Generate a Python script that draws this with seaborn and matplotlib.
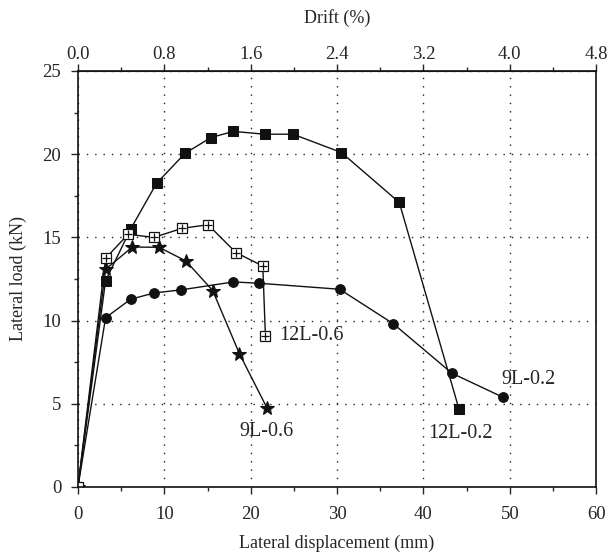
import matplotlib
matplotlib.use("Agg")
import matplotlib.pyplot as plt
from matplotlib.ticker import MultipleLocator, FixedLocator, FormatStrFormatter
import seaborn as sns

# displacement (mm) / lateral load (kN)
x_12l02 = [0.0, 3.2, 6.1, 9.1, 12.4, 15.4, 18.0, 21.6, 24.9, 30.5, 37.2, 44.1]
y_12l02 = [0.0, 12.4, 15.5, 18.25, 20.05, 21.0, 21.37, 21.2, 21.2, 20.1, 17.1, 4.7]

x_12l06 = [0.0, 3.2, 5.8, 8.8, 12.05, 15.06, 18.3, 21.4, 21.7]
y_12l06 = [0.0, 13.74, 15.18, 15.0, 15.54, 15.76, 14.08, 13.28, 9.1]

x_9l06 = [0.0, 3.2, 6.3, 9.4, 12.5, 15.6, 18.7, 21.9]
y_9l06 = [0.0, 13.08, 14.42, 14.4, 13.58, 11.8, 8.0, 4.73]

x_9l02 = [0.0, 3.2, 6.1, 8.85, 11.9, 18.0, 21.0, 30.3, 36.5, 43.3, 49.2]
y_9l02 = [0.0, 10.17, 11.28, 11.66, 11.84, 12.32, 12.24, 11.88, 9.81, 6.83, 5.39]

drift_ticks = [0.0, 0.8, 1.6, 2.4, 3.2, 4.0, 4.8]
drift_minor = [0.4, 1.2, 2.0, 2.8, 3.6, 4.4]
HEIGHT_MM = 1250.0  # drift = displacement / height

sns.set_style("ticks")
plt.rcParams["font.family"] = ["Liberation Serif", "DejaVu Serif"]
plt.rcParams["font.size"] = 13

fig = plt.figure(figsize=(6.09, 5.59), dpi=100)
ax = fig.add_axes([0.128, 0.129, 0.851, 0.744])

ink = "#111111"
sns.lineplot(x=x_12l02, y=y_12l02, sort=False, estimator=None, color=ink,
             lw=1, marker="s", markersize=7, markeredgecolor=ink, ax=ax)
sns.lineplot(x=x_9l02, y=y_9l02, sort=False, estimator=None, color=ink,
             lw=1, marker="o", markersize=7, markeredgecolor=ink, ax=ax)
sns.lineplot(x=x_9l06, y=y_9l06, sort=False, estimator=None, color=ink,
             lw=1, marker="*", markersize=10, markeredgecolor=ink, ax=ax)
sns.lineplot(x=x_12l06, y=y_12l06, sort=False, estimator=None, color=ink,
             lw=1, marker="s", markersize=7, markerfacecolor="white",
             markeredgecolor=ink, markeredgewidth=0.9, ax=ax)
sns.scatterplot(x=x_12l06[1:], y=y_12l06[1:], marker="+", s=40, color=ink,
                linewidth=0.9, ax=ax, zorder=5)

ax.text(23.3, 9.1, "12L-0.6", va="center", ha="left", fontsize=14.5)
ax.text(18.7, 3.35, "9L-0.6", va="center", ha="left", fontsize=14.5)
ax.text(49.0, 6.45, "9L-0.2", va="center", ha="left", fontsize=14.5)
ax.text(40.5, 3.2, "12L-0.2", va="center", ha="left", fontsize=14.5)

ax.set_xlim(0, 60)
ax.set_ylim(0, 25)
ax.xaxis.set_major_locator(MultipleLocator(10))
ax.xaxis.set_minor_locator(MultipleLocator(5))
ax.yaxis.set_major_locator(MultipleLocator(5))
ax.yaxis.set_minor_locator(MultipleLocator(2.5))
ax.tick_params(which="major", direction="out", length=5, width=1, labelsize=13.5)
ax.tick_params(axis="x", which="major", pad=8.5)
ax.tick_params(axis="y", which="major", pad=7)
ax.tick_params(which="minor", direction="out", length=3, width=1)
ax.grid(True, which="major", color="#222222", linestyle=(0, (1, 5)), linewidth=1)
ax.set_xlabel("Lateral displacement (mm)", fontsize=13, labelpad=9)
ax.set_ylabel("Lateral load (kN)", fontsize=13, labelpad=11)
for s in ax.spines.values():
    s.set_linewidth(1.2)
    s.set_color(ink)

top = ax.secondary_xaxis("top", functions=(lambda d: d / HEIGHT_MM * 100,
                                           lambda p: p * HEIGHT_MM / 100))
top.xaxis.set_major_locator(FixedLocator(drift_ticks))
top.xaxis.set_minor_locator(FixedLocator(drift_minor))
top.xaxis.set_major_formatter(FormatStrFormatter("%.1f"))
top.tick_params(which="major", direction="out", length=5, width=1, labelsize=13.5, pad=0.5)
top.tick_params(which="minor", direction="out", length=3, width=1)
top.set_xlabel("Drift (%)", fontsize=13, labelpad=17)

fig.savefig("out.png", dpi=100)
